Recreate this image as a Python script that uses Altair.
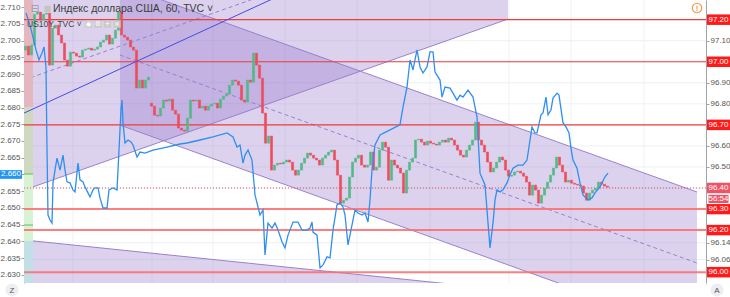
import altair as alt
import pandas as pd

FONT = "Liberation Sans"

# ---------------- data ----------------
# x = hourly bar index of the 60-min chart
day_ticks = [16.33, 42.67, 63.0, 87.0, 111.0, 135.33, 161.67, 182.33, 206.67]
day_labels = ["15", "18", "19", "20", "21", "22", "25", "26", "27"]

# DXY hourly closes (right axis)
closes = [
    97.074, 97.032, 97.079, 97.226, 97.236, 97.198, 97.226, 97.231, 96.984, 97.160,
    97.174, 97.127, 97.089, 97.008, 96.979, 97.046, 97.041, 97.027, 97.022, 97.055,
    97.060, 97.065, 97.055, 97.060, 97.070, 97.093, 97.103, 97.127, 97.084, 97.112,
    97.150, 97.236, 97.127, 97.117, 97.103, 97.070, 97.055, 96.875, 96.913, 96.875,
    96.913, 96.927, 96.789, 96.746, 96.742, 96.780, 96.818, 96.813, 96.822, 96.770,
    96.751, 96.685, 96.675, 96.670, 96.732, 96.818, 96.813, 96.818, 96.780, 96.789,
    96.770, 96.789, 96.799, 96.803, 96.780, 96.822, 96.837, 96.846, 96.889, 96.913,
    96.908, 96.889, 96.818, 96.808, 96.913, 96.903, 97.041, 96.984, 96.922, 96.756,
    96.613, 96.647, 96.485, 96.509, 96.518, 96.514, 96.523, 96.533, 96.523, 96.485,
    96.461, 96.485, 96.518, 96.542, 96.566, 96.556, 96.542, 96.533, 96.509, 96.542,
    96.556, 96.571, 96.580, 96.533, 96.461, 96.328, 96.342, 96.352, 96.452, 96.523,
    96.542, 96.556, 96.509, 96.499, 96.509, 96.571, 96.485, 96.499, 96.580, 96.618,
    96.594, 96.437, 96.533, 96.509, 96.495, 96.471, 96.376, 96.485, 96.523, 96.542,
    96.628, 96.632, 96.618, 96.604, 96.623, 96.613, 96.609, 96.604, 96.618, 96.628,
    96.618, 96.637, 96.628, 96.604, 96.580, 96.556, 96.547, 96.580, 96.604, 96.628,
    96.713, 96.628, 96.604, 96.571, 96.523, 96.476, 96.495, 96.523, 96.547, 96.533,
    96.485, 96.456, 96.461, 96.476, 96.480, 96.471, 96.456, 96.428, 96.366, 96.414,
    96.390, 96.328, 96.366, 96.399, 96.428, 96.461, 96.495, 96.547, 96.509, 96.476,
    96.428, 96.437, 96.423, 96.418, 96.414, 96.409, 96.376, 96.342, 96.376, 96.390,
    96.399, 96.428, 96.418, 96.409, 96.404,
]
gap_opens = {0: 97.055, 42: 96.803}

# US10Y (left axis): (bar index, value)
us10y = [
    (0.67, 2.7082), (2, 2.7046), (3, 2.7010), (4, 2.6972), (5, 2.6942), (6, 2.6963),
    (6.67, 2.6981), (7.33, 2.6921), (7.67, 2.6673), (8, 2.6479), (8.67, 2.6464),
    (9.33, 2.6455), (9.67, 2.6575), (10.33, 2.6613), (11, 2.6649), (12, 2.6613),
    (13, 2.6658), (13.67, 2.6613), (14.33, 2.6578), (15.33, 2.6575), (16.33, 2.6554),
    (17, 2.6548), (18, 2.6634), (18.67, 2.6584), (19.67, 2.6578), (20.33, 2.6563),
    (21.33, 2.6545), (22, 2.6533), (23, 2.6554), (23.67, 2.6560), (24.67, 2.6560),
    (25.33, 2.6530), (26.33, 2.6500), (27.67, 2.6500), (28.33, 2.6554), (29.67, 2.6560),
    (31, 2.6554), (31.67, 2.6673), (32.33, 2.6793), (32.67, 2.6822), (33, 2.6754),
    (33.67, 2.6694), (34.67, 2.6703), (35.67, 2.6697), (36.33, 2.6688), (37.67, 2.6652),
    (38.67, 2.6667), (40.33, 2.6664), (43, 2.6673), (47.67, 2.6682), (52, 2.6691),
    (54.33, 2.6694), (58.67, 2.6703), (63, 2.6712), (67.67, 2.6724), (69.67, 2.6712),
    (71, 2.6682), (72, 2.6688), (73, 2.6634), (73.67, 2.6658), (74.67, 2.6673),
    (76, 2.6643), (77, 2.6539), (78.67, 2.6479), (79.67, 2.6494), (80.33, 2.6360),
    (81.33, 2.6455), (82.67, 2.6440), (83.67, 2.6455), (84.67, 2.6434), (86, 2.6399),
    (87, 2.6381), (88, 2.6419), (89.67, 2.6458), (91.33, 2.6458), (92.67, 2.6434),
    (94.33, 2.6434), (95.33, 2.6440), (96, 2.6458), (96.33, 2.6428), (97.67, 2.6419),
    (98.67, 2.6321), (99.67, 2.6330), (101, 2.6354), (102, 2.6351), (103, 2.6434),
    (104.33, 2.6509), (105.33, 2.6515), (106.33, 2.6503), (107, 2.6479), (108, 2.6390),
    (109.33, 2.6449), (110.33, 2.6494), (111.33, 2.6485), (112.67, 2.6479),
    (113.67, 2.6485), (114.67, 2.6458), (115.33, 2.6524), (116, 2.6613), (117, 2.6688),
    (118.67, 2.6718), (122, 2.6733), (125.33, 2.6748), (126.33, 2.6801),
    (127.67, 2.6861), (128.67, 2.6942), (129.67, 2.6912), (131, 2.6972), (132, 2.6921),
    (133, 2.6903), (134.33, 2.6921), (135.33, 2.6966), (136.33, 2.6966), (137, 2.6906),
    (138.67, 2.6882), (139.33, 2.6831), (140.33, 2.6861), (142, 2.6858), (143, 2.6843),
    (144.33, 2.6822), (145.33, 2.6837), (146.33, 2.6831), (148, 2.6852),
    (149.67, 2.6831), (150.33, 2.6801), (151, 2.6772), (152, 2.6604), (153.67, 2.6569),
    (154.67, 2.6455), (155.33, 2.6381), (156.33, 2.6455), (157, 2.6524),
    (157.67, 2.6554), (158.67, 2.6548), (159.67, 2.6554), (161, 2.6575), (162, 2.6599),
    (163, 2.6619), (164.67, 2.6628), (166.33, 2.6628), (167.67, 2.6643),
    (168.67, 2.6703), (169.33, 2.6742), (170.33, 2.6724), (171, 2.6724),
    (172.33, 2.6778), (173, 2.6784), (174, 2.6831), (174.67, 2.6778), (175.67, 2.6793),
    (176.33, 2.6828), (177.67, 2.6843), (178.33, 2.6837), (179.67, 2.6754),
    (180.67, 2.6742), (181.67, 2.6724), (182.33, 2.6679), (183, 2.6643),
    (184.33, 2.6619), (185.33, 2.6575), (186.33, 2.6539), (188, 2.6524),
    (189.33, 2.6530), (190.33, 2.6545), (192, 2.6563), (193.67, 2.6593),
    (194.67, 2.6604),
]

level_lines_thin = [97.20, 97.00, 96.70]
level_lines_thick = [96.30, 96.20, 96.00]
last_price = 96.40
last_us10y = 2.660
countdown = "56:54"
right_ticks = [97.10, 96.90, 96.80, 96.60, 96.50, 96.14, 96.06]
left_ticks = [2.630, 2.635, 2.640, 2.645, 2.650, 2.655, 2.660, 2.665, 2.670,
              2.675, 2.680, 2.685, 2.690, 2.695, 2.700, 2.705, 2.710]

# drawings (bar index, price)
chanA_t, chanA_lo, chanA_mid, chanA_top = [0, 161.33], [96.390, 97.203], [96.913, 97.726], 97.40
chanB_t, chanB_hi, chanB_lo, chanB_mid = [32, 224.33], [97.365, 96.381], [96.699, 95.711], [97.032, 96.0435]
chanC_t, chanC_hi, chanC_bot = [0, 192], [96.153, 95.870], 95.80
trend_t, trend_p = [0, 100], [96.756, 97.411]
strip_t = [0, 3]
strip_bands = [(97.40, 96.785, "#e4b6c0"), (96.785, 96.4665, "#cfd8c0"),
               (96.4665, 96.148, "#d7f3d3"), (96.148, 95.90, "#c2dfe6")]
strip_marks = [96.4665, 96.224]

# ---------------- scales / helpers ----------------
XS = alt.Scale(domain=[0, 227.33], nice=False, zero=False)
PS = alt.Scale(domain=[95.9485, 97.2935], nice=False, zero=False)
LS = alt.Scale(domain=[2.6276, 2.7121], nice=False, zero=False)

GREEN, RED = "#53b987", "#eb4d5c"
PURPLE_FILL, PURPLE_LINE = "#8c6bc8", "#9a80cc"
GRID = "#edf1f5"


def X(f):
    return alt.X(f, type="quantitative", scale=XS, axis=None, title=None)


def P(f):
    return alt.Y(f, type="quantitative", scale=PS, axis=None, title=None)


one = pd.DataFrame({"a": [0]})

pos_js = "[" + ",".join(str(v) for v in day_ticks) + "]"
lab_js = "[" + ",".join("'%s'" % s for s in day_labels) + "]"
x_axis = alt.Axis(values=day_ticks, labelExpr=f"{lab_js}[indexof({pos_js}, datum.value)]",
                  grid=False, tickSize=3, tickColor="#a0a4a8", domainColor="#a0a4a8",
                  labelColor="#555555", labelFontSize=8.5, labelFont=FONT, labelPadding=1,
                  labelOverlap=False, labelFlush=False, title=None)
right_axis = alt.Axis(orient="right", values=right_ticks, format=".2f", grid=False,
                      tickSize=3, tickColor="#a0a4a8", domainColor="#a0a4a8",
                      labelColor="#555555", labelFontSize=8, labelFont=FONT,
                      labelPadding=1, labelOverlap=False, title=None)
left_axis = alt.Axis(orient="left", values=left_ticks, format=".3f", grid=False,
                     tickSize=3, tickColor="#a0a4a8", domainColor="#a0a4a8",
                     labelColor="#555555", labelFontSize=8, labelFont=FONT,
                     labelPadding=1, labelOverlap=False, title=None)

layers = []

# grid
layers.append(alt.Chart(pd.DataFrame({"t": day_ticks})).mark_rule(color=GRID, strokeWidth=1)
              .encode(x=alt.X("t:Q", scale=XS, axis=x_axis, title=None)))
grid_vals = right_ticks + level_lines_thin + level_lines_thick + [last_price]
layers.append(alt.Chart(pd.DataFrame({"p": grid_vals})).mark_rule(color=GRID, strokeWidth=1)
              .encode(y=alt.Y("p:Q", scale=PS, axis=right_axis, title=None)))

# channel fills
dfA = pd.DataFrame({"t": chanA_t, "lo": chanA_lo, "hi": [chanA_top, chanA_top]})
dfB = pd.DataFrame({"t": chanB_t, "lo": chanB_lo, "hi": chanB_hi})
dfC = pd.DataFrame({"t": chanC_t, "lo": [chanC_bot, chanC_bot], "hi": chanC_hi})
for d in (dfA, dfC, dfB):
    layers.append(alt.Chart(d).mark_area(color=PURPLE_FILL, opacity=0.3, clip=True)
                  .encode(x=X("t"), y=P("lo"), y2=alt.Y2("hi")))

# channel borders
segs = pd.DataFrame({
    "t1": [chanA_t[0], chanB_t[0], chanB_t[0], chanC_t[0]],
    "t2": [chanA_t[1], chanB_t[1], chanB_t[1], chanC_t[1]],
    "p1": [chanA_lo[0], chanB_hi[0], chanB_lo[0], chanC_hi[0]],
    "p2": [chanA_lo[1], chanB_hi[1], chanB_lo[1], chanC_hi[1]],
})
layers.append(alt.Chart(segs).mark_rule(color=PURPLE_LINE, strokeWidth=1, clip=True)
              .encode(x=X("t1"), x2=alt.X2("t2"), y=P("p1"), y2=alt.Y2("p2")))
mids = pd.DataFrame({"t1": [chanA_t[0], chanB_t[0]], "t2": [chanA_t[1], chanB_t[1]],
                     "p1": [chanA_mid[0], chanB_mid[0]], "p2": [chanA_mid[1], chanB_mid[1]]})
layers.append(alt.Chart(mids).mark_rule(color=PURPLE_LINE, strokeWidth=1, strokeDash=[4, 3], clip=True)
              .encode(x=X("t1"), x2=alt.X2("t2"), y=P("p1"), y2=alt.Y2("p2")))

# left strip
strip = pd.DataFrame({"t1": [strip_t[0]] * 4, "t2": [strip_t[1]] * 4,
                      "p1": [b[0] for b in strip_bands], "p2": [b[1] for b in strip_bands],
                      "c": [b[2] for b in strip_bands]})
layers.append(alt.Chart(strip).mark_rect(clip=True)
              .encode(x=X("t1"), x2=alt.X2("t2"), y=P("p1"), y2=alt.Y2("p2"),
                      color=alt.Color("c:N", scale=None, legend=None)))
layers.append(alt.Chart(pd.DataFrame({"p": strip_marks, "t1": [0, 0], "t2": [3, 3]}))
              .mark_rule(color="#5cc05c", strokeWidth=1)
              .encode(x=X("t1"), x2=alt.X2("t2"), y=P("p")))

# horizontal levels
layers.append(alt.Chart(pd.DataFrame({"p": level_lines_thin})).mark_rule(color="#f03c3c", strokeWidth=1.2)
              .encode(y=P("p")))
layers.append(alt.Chart(pd.DataFrame({"p": level_lines_thick})).mark_rule(color="#ff6a6a", strokeWidth=2, opacity=0.85)
              .encode(y=P("p")))
layers.append(alt.Chart(pd.DataFrame({"p": [last_price]})).mark_rule(color="#eb4d5c", strokeWidth=1, strokeDash=[1, 2])
              .encode(y=P("p")))

# candles
rows = []
for i, c in enumerate(closes):
    o = gap_opens.get(i, closes[i - 1] if i > 0 else c)
    b = i + 0.5
    rows.append({"xl": b - 0.36, "xr": b + 0.36, "o": o, "c": c, "d": "up" if c >= o else "down"})
cdf = pd.DataFrame(rows)
cscale = alt.Scale(domain=["up", "down"], range=[GREEN, RED])
layers.append(alt.Chart(cdf).mark_rect(strokeWidth=0.5, clip=True)
              .encode(x=X("xl"), x2=alt.X2("xr"), y=P("o"), y2=alt.Y2("c"),
                      color=alt.Color("d:N", scale=cscale, legend=None),
                      stroke=alt.Stroke("d:N", scale=cscale, legend=None)))

# blue trend line
layers.append(alt.Chart(pd.DataFrame({"t1": [trend_t[0]], "t2": [trend_t[1]], "p1": [trend_p[0]], "p2": [trend_p[1]]}))
              .mark_rule(color="#4a4ae0", strokeWidth=1, clip=True)
              .encode(x=X("t1"), x2=alt.X2("t2"), y=P("p1"), y2=alt.Y2("p2")))

# US10Y line (left axis)
bdf = pd.DataFrame(us10y, columns=["t", "v"])
layers.append(alt.Chart(bdf).mark_line(color="#2f8ff0", strokeWidth=1.3, clip=True)
              .encode(x=X("t"), y=alt.Y("v:Q", scale=LS, axis=left_axis, title=None)))

# right-axis label boxes
boxes = pd.DataFrame({
    "p": [97.20, 97.00, 96.70, 96.30, 96.20, 96.00, last_price],
    "lab": ["97.20", "97.00", "96.70", "96.30", "96.20", "96.00", "96.40"],
    "col": ["#ff1a1a"] * 6 + ["#ee5466"],
})
layers.append(alt.Chart(boxes).transform_calculate(p1="datum.p + 0.025", p2="datum.p - 0.025")
              .mark_rect()
              .encode(x=alt.value(683), x2=alt.value(706), y=P("p1"), y2=alt.Y2("p2"),
                      color=alt.Color("col:N", scale=None, legend=None)))
layers.append(alt.Chart(boxes).mark_text(color="white", fontSize=8, font=FONT, align="center", baseline="middle")
              .encode(x=alt.value(694.5), y=P("p"), text="lab:N"))
cd = pd.DataFrame({"p": [last_price], "lab": [countdown]})
layers.append(alt.Chart(cd).transform_calculate(p1="datum.p - 0.030", p2="datum.p - 0.074")
              .mark_rect(fill="#ee5466", stroke="white", strokeWidth=1)
              .encode(x=alt.value(684), x2=alt.value(705), y=P("p1"), y2=alt.Y2("p2")))
layers.append(alt.Chart(cd).transform_calculate(pc="datum.p - 0.052")
              .mark_text(color="white", fontSize=8, font=FONT, align="center", baseline="middle")
              .encode(x=alt.value(694.5), y=P("pc"), text="lab:N"))

# left-axis label box
lb = pd.DataFrame({"v": [last_us10y], "lab": ["2.660"]})
layers.append(alt.Chart(lb).transform_calculate(v1="datum.v + 0.0013", v2="datum.v - 0.0013")
              .mark_rect(color="#2196f3")
              .encode(x=alt.value(-24), x2=alt.value(-2),
                      y=alt.Y("v1:Q", scale=LS, axis=None, title=None), y2=alt.Y2("v2")))
layers.append(alt.Chart(lb).mark_text(color="white", fontSize=8, font=FONT, align="center", baseline="middle")
              .encode(x=alt.value(-13), y=alt.Y("v:Q", scale=LS, axis=None, title=None), text="lab:N"))


# header / UI decorations
def txt(s, x, y, size, color, align="left", font=FONT, weight="normal"):
    return alt.Chart(one).mark_text(text=s, fontSize=size, color=color, align=align,
                                    baseline="middle", font=font, fontWeight=weight
                                    ).encode(x=alt.value(x), y=alt.value(y))


def dot(x, y, size, fill=None, stroke=None, shape="square", sw=1):
    kw = dict(shape=shape, size=size, opacity=1, strokeWidth=sw)
    if fill:
        kw.update(filled=True, fill=fill)
    else:
        kw.update(filled=False)
    if stroke:
        kw.update(stroke=stroke)
    return alt.Chart(one).mark_point(**kw).encode(x=alt.value(x), y=alt.value(y))


layers.append(txt("⊟", 11, 9, 10, "#9a9a9a", align="center", font="DejaVu Sans"))
layers.append(dot(23.5, 9, 40, fill="#c4c4c4"))
layers.append(txt("Индекс доллара США, 60, TVC ˅", 29, 9, 10.5, "#3c3c3c"))
layers.append(txt("US10Y, TVC ˅", 3, 24, 8.5, "#444444"))
for k, sym in enumerate(["◉", "⚙", "+", "×"]):
    layers.append(dot(64.5 + 9.5 * k, 24, 55, fill="#c9c9c9"))
    layers.append(txt(sym, 64.5 + 9.5 * k, 24, 7, "white", align="center", font="DejaVu Sans"))
layers.append(dot(673, 8, 90, stroke="#f2994a", shape="circle", sw=1.2))
layers.append(txt("!", 673, 8.5, 8, "#f2994a", align="center", weight="bold"))
layers.append(dot(-12, 290, 170, fill="#eceef1", shape="circle"))
layers.append(txt("Z", -12, 290.5, 8, "#555555", align="center"))
layers.append(dot(693, 290, 170, fill="#eceef1", shape="circle"))
layers.append(txt("A", 693, 290.5, 8, "#555555", align="center"))

chart = (alt.layer(*layers)
         .resolve_scale(y="independent")
         .properties(width=682, height=283, autosize="none",
                     padding={"left": 24, "right": 24, "top": 0, "bottom": 14},
                     background="white")
         .configure_view(stroke=None))

chart.save("out.html", embed_options={"renderer": "svg", "actions": False})
